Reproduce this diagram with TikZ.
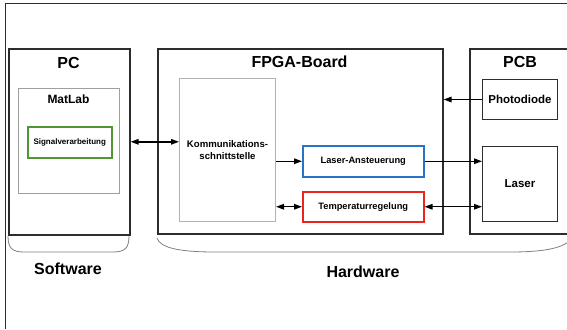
\documentclass[tikz,border=0pt]{standalone}
\usepackage{fontspec}
\setmainfont{Liberation Sans}
\usepackage{tikz}
\usetikzlibrary{arrows.meta, positioning}
\definecolor{signalgreen}{RGB}{80,150,55}
\definecolor{laserblue}{RGB}{40,115,200}
\definecolor{tempred}{RGB}{235,35,35}
\definecolor{framegray}{RGB}{45,45,45}

\begin{document}
\begin{tikzpicture}[x=1pt, y=-1pt,
    every node/.style={inner sep=0pt, font=\bfseries},
    unit/.style={draw=framegray, line width=1.6pt, anchor=north west},
    inner/.style={draw=gray!75, line width=1pt, anchor=north west},
    part/.style={draw=framegray, line width=1pt, anchor=north west, font=\bfseries\fontsize{11.5}{14}\selectfont},
    block/.style={draw, text=black, line width=1.5pt, anchor=north west, minimum width=121pt, font=\bfseries\fontsize{9.3}{11}\selectfont},
    title/.style={font=\bfseries\fontsize{16}{19}\selectfont},
    conn/.style={line width=1.4pt, -{Triangle[length=8pt,width=5.5pt]}},
    biconn/.style={line width=1.4pt, {Triangle[length=8pt,width=5.5pt]}-{Triangle[length=8pt,width=5.5pt]}},
    brace/.style={draw=gray, line width=0.8pt}]
    \useasboundingbox (0,0) rectangle (567,329);
    \draw[framegray, line width=1pt] (5,329) -- (5,4) -- (567,4);

    \node[unit, minimum width=121pt, minimum height=186pt] (pc) at (8,48) {};
    \node[unit, minimum width=285pt, minimum height=185pt] (fpga) at (157,48) {};
    \node[unit, minimum width=110pt, minimum height=185pt] (pcb) at (469,48) {};
    \node[title] (pctitle) at (68.5,63) {PC};
    \node[title] (fpgatitle) at (299.5,62) {FPGA-Board};
    \node[title] (pcbtitle) at (520,62) {PCB};

    \node[inner, minimum width=101pt, minimum height=105pt] (matlab) at (18,88) {};
    \node[font=\bfseries\fontsize{12}{14}\selectfont] (matlabtitle) at (68.5,99) {MatLab};
    \node[block, color=signalgreen, text=black, minimum width=84pt, minimum height=31pt,
        font=\bfseries\fontsize{8}{10}\selectfont] (signal) at (27,126) {Signalverarbeitung};

    \node[inner, draw=gray!60, minimum width=96pt, minimum height=143pt, align=center,
        font=\bfseries\fontsize{9.6}{12}\selectfont] (komm) at (179,78) {Kommunikations-\\schnittstelle};
    \node[block, color=laserblue, text=black, minimum height=31pt] (ansteuerung) at (302,145) {Laser-Ansteuerung};
    \node[block, color=tempred, text=black, minimum height=30pt] (temp) at (302,191) {Temperaturregelung};

    \node[part, minimum width=75pt, minimum height=40pt] (photo) at (482,79) {Photodiode};
    \node[part, minimum width=75pt, minimum height=75pt] (laser) at (482,146) {Laser};

    \draw[biconn] (pc.east) -- (pc.east -| komm.west);
    \draw[conn] (komm.east |- ansteuerung.west) -- (ansteuerung.west);
    \draw[biconn] (komm.east |- temp.west) -- (temp.west);
    \draw[conn] (ansteuerung.east) -- (ansteuerung.east -| laser.west);
    \draw[biconn] (temp.east) -- (temp.east -| laser.west);
    \draw[conn] (photo.west) -- (photo.west -| fpga.east);

    \draw[brace] (8,236) .. controls (8,248) and (12,252) .. (24,252) -- (113,252)
        .. controls (125,252) and (129,248) .. (129,236);
    \draw[brace] (157,238) .. controls (160,248) and (180,252) .. (215,252) -- (510,252)
        .. controls (545,252) and (565,248) .. (572,238);
    \node[title] (software) at (68,269) {Software};
    \node[title] (hardware) at (363,272) {Hardware};
\end{tikzpicture}
\end{document}
